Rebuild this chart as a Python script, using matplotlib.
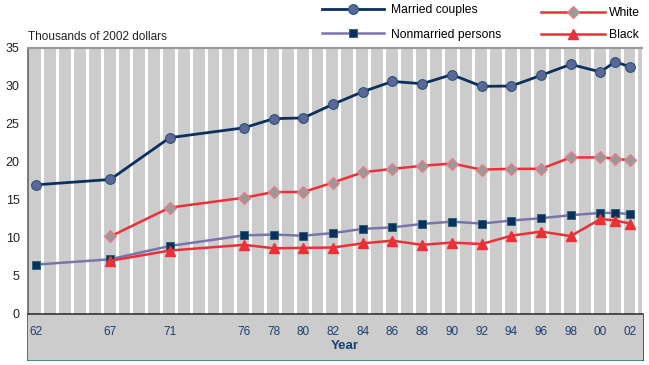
import numpy as np
import matplotlib.pyplot as plt
from matplotlib.patches import Rectangle
from matplotlib.lines import Line2D

plt.rcParams["font.family"] = ["Liberation Sans", "DejaVu Sans"]

# years as offset from 1900 (2000 -> 100)
years = [62, 67, 71, 76, 78, 80, 82, 84, 86, 88, 90, 92, 94, 96, 98, 100, 101, 102]
married = [17.0, 17.7, 23.2, 24.5, 25.7, 25.8, 27.6, 29.25, 30.6, 30.3, 31.5, 29.95,
           30.0, 31.4, 32.85, 31.85, 33.2, 32.5]
nonmarried = [6.5, 7.2, 8.95, 10.35, 10.45, 10.3, 10.65, 11.2, 11.4, 11.85, 12.15, 11.9,
              12.3, 12.6, 13.0, 13.3, 13.3, 13.15]

race_years = years[1:]
white = [10.2, 14.0, 15.3, 16.05, 16.05, 17.3, 18.65, 19.1, 19.5, 19.8, 19.0, 19.1,
         19.1, 20.6, 20.6, 20.45, 20.2]
black = [7.0, 8.35, 9.1, 8.65, 8.7, 8.75, 9.3, 9.65, 9.1, 9.4, 9.2, 10.3,
         10.85, 10.25, 12.5, 12.3, 11.9]

tick_years = [62, 67, 71, 76, 78, 80, 82, 84, 86, 88, 90, 92, 94, 96, 98, 100, 102]
tick_labels = ["62", "67", "71", "76", "78", "80", "82", "84", "86", "88", "90", "92",
               "94", "96", "98", "00", "02"]

NAVY = "#0b2f5e"
SLATE = "#5f6599"
LAVENDER = "#7a74ae"
RED = "#ee3036"
PINK = "#f07a86"
GRAY_BG = "#cccccc"
TICK_BLUE = "#1b3f73"

W, H = 649, 365
fig = plt.figure(figsize=(W / 100, H / 100), dpi=100)
ax = fig.add_axes([28 / W, 1 - 314 / H, (642 - 28) / W, (314 - 48) / H])
ax.set_facecolor(GRAY_BG)
ax.set_zorder(2)

# band under the axis holding the year labels
band = Rectangle((28 / W, 1 - 360 / H), (643 - 28) / W, (360 - 314) / H,
                 transform=fig.transFigure, facecolor=GRAY_BG, edgecolor="none", zorder=-1)
fig.patches.append(band)
fig.add_artist(Line2D([28 / W, 28 / W], [1 - 360 / H, 1 - 314 / H], color="#3b4fa0",
                      lw=1.2, zorder=-1))
fig.add_artist(Line2D([28 / W, 643 / W], [1 - 360 / H, 1 - 360 / H], color="#1f7a7a",
                      lw=1.2, zorder=-1))
fig.add_artist(Line2D([643 / W, 643 / W], [1 - 360 / H, 1 - 314 / H], color="#1b3f73",
                      lw=1.2, zorder=-1))

# white vertical stripes, one per year
for yr in range(62, 103):
    ax.axvline(yr + 0.42, color="white", lw=2.2, zorder=1)

ax.plot(years, married, color=NAVY, lw=2.0, marker="o", markersize=7,
        markerfacecolor=SLATE, markeredgecolor="#1f5a70", markeredgewidth=0.8, zorder=3,
        label="Married couples")
ax.plot(years, nonmarried, color=LAVENDER, lw=1.8, marker="s", markersize=5.5,
        markerfacecolor=NAVY, markeredgecolor="#1f6070", markeredgewidth=0.6, zorder=3,
        label="Nonmarried persons")
ax.plot(race_years, white, color=RED, lw=1.8, marker="D", markersize=6,
        markerfacecolor="#999999", markeredgecolor=PINK, markeredgewidth=0.9, zorder=3,
        label="White")
ax.plot(race_years, black, color=RED, lw=1.8, marker="^", markersize=6.5,
        markerfacecolor=RED, markeredgecolor=RED, zorder=3, label="Black")

ax.set_xlim(61.46, 102.8)
ax.set_ylim(0, 35)
ax.set_yticks(range(0, 36, 5))
ax.tick_params(axis="y", length=0, pad=6, labelsize=9, colors="#222222")
ax.set_xticks(tick_years)
ax.set_xticklabels(tick_labels)
ax.tick_params(axis="x", length=0, pad=8.5, labelsize=8.5, colors=TICK_BLUE)

ax.spines["right"].set_visible(False)
ax.spines["top"].set_color("#999999")
ax.spines["top"].set_linewidth(1.5)
ax.spines["left"].set_color("#666666")
ax.spines["left"].set_linewidth(1.2)
ax.spines["bottom"].set_color("#333333")
ax.spines["bottom"].set_linewidth(1.2)

fig.text(28 / W, 1 - 37 / H, "Thousands of 2002 dollars", fontsize=8.5,
         color="#222222", va="center", ha="left")
fig.text(345 / W, 1 - 346 / H, "Year", fontsize=9.5, fontweight="bold",
         color=TICK_BLUE, va="center", ha="center")

handles, labels = ax.get_legend_handles_labels()
fig.legend(handles[:2], labels[:2], loc="upper left", bbox_to_anchor=(322 / W, 1 - 4 / H),
           frameon=False, fontsize=8.7, handlelength=5.1, handletextpad=0.6,
           labelspacing=1.05, borderpad=0, borderaxespad=0)
fig.legend(handles[2:], labels[2:], loc="upper left", bbox_to_anchor=(541 / W, 1 - 7 / H),
           frameon=False, fontsize=8.7, handlelength=5.3, handletextpad=0.3,
           labelspacing=0.85, borderpad=0, borderaxespad=0)

fig.savefig("out.png", dpi=100)
